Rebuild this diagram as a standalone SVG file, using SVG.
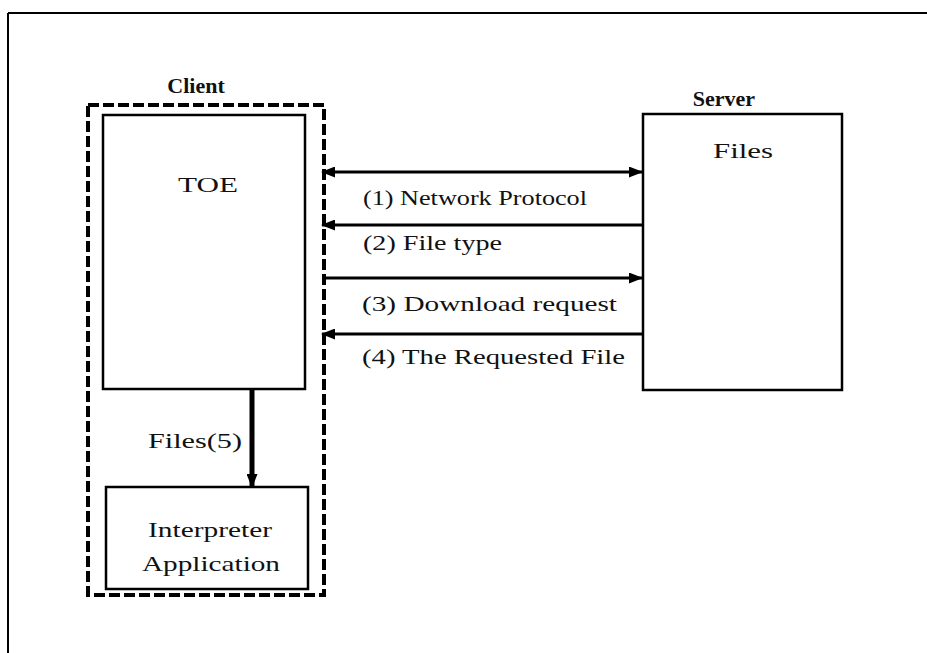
<svg xmlns="http://www.w3.org/2000/svg" width="927" height="653" viewBox="0 0 927 653">
<style>
.lbl{font-family:"Liberation Serif","Times New Roman",serif;font-size:21px;fill:#111}
.ttl{font-family:"Liberation Serif","Times New Roman",serif;font-size:22px;font-weight:bold;fill:#111}
.box{fill:#fff;stroke:#000;stroke-width:2.5}
.dash{fill:none;stroke:#000;stroke-width:4;stroke-dasharray:11 4}
.ln{stroke:#000;stroke-width:3;fill:none}
</style>
<defs>
<marker id="ah" markerWidth="14" markerHeight="11" refX="13" refY="5.5" orient="auto" markerUnits="userSpaceOnUse">
<path d="M0,0 L14,5.5 L0,11 Z" fill="#000"/>
</marker>
<marker id="ahs" markerWidth="14" markerHeight="11" refX="1" refY="5.5" orient="auto" markerUnits="userSpaceOnUse">
<path d="M14,0 L0,5.5 L14,11 Z" fill="#000"/>
</marker>
</defs>
<rect width="927" height="653" fill="#fff"/>
<g id="frame">
<line x1="8" y1="13" x2="927" y2="13" stroke="#000" stroke-width="2"/>
<line x1="8" y1="13" x2="8" y2="653" stroke="#000" stroke-width="2"/>
</g>
<g id="client">
<text class="ttl" x="196" y="93" text-anchor="middle">Client</text>
<rect class="dash" x="88" y="105" width="236" height="490"/>
</g>
<g id="toe">
<rect class="box" x="103" y="115" width="202" height="274"/>
<text class="lbl" x="208" y="192" text-anchor="middle" textLength="60" lengthAdjust="spacingAndGlyphs">TOE</text>
</g>
<g id="interpreter">
<rect class="box" x="106" y="487" width="202" height="102"/>
<text class="lbl" x="210" y="537" text-anchor="middle" textLength="124" lengthAdjust="spacingAndGlyphs">Interpreter</text>
<text class="lbl" x="211" y="571" text-anchor="middle" textLength="138" lengthAdjust="spacingAndGlyphs">Application</text>
</g>
<g id="server">
<text class="ttl" x="724" y="106" text-anchor="middle">Server</text>
<rect class="box" x="643" y="114" width="199" height="276"/>
<text class="lbl" x="743" y="158" text-anchor="middle" textLength="60" lengthAdjust="spacingAndGlyphs">Files</text>
</g>
<g id="connectors">
<line class="ln" x1="322" y1="172" x2="642" y2="172" marker-start="url(#ahs)" marker-end="url(#ah)"/>
<line class="ln" x1="643" y1="225" x2="322" y2="225" marker-end="url(#ah)"/>
<line class="ln" x1="322" y1="278" x2="642" y2="278" marker-end="url(#ah)"/>
<line class="ln" x1="643" y1="334" x2="322" y2="334" marker-end="url(#ah)"/>
<line x1="252" y1="389" x2="252" y2="487" stroke="#000" stroke-width="5" marker-end="url(#ah)"/>
</g>
<g id="labels">
<text class="lbl" x="363" y="205" textLength="224" lengthAdjust="spacingAndGlyphs">(1) Network Protocol</text>
<text class="lbl" x="363" y="250" textLength="139" lengthAdjust="spacingAndGlyphs">(2) File type</text>
<text class="lbl" x="362" y="311" textLength="255" lengthAdjust="spacingAndGlyphs">(3) Download request</text>
<text class="lbl" x="362" y="364" textLength="263" lengthAdjust="spacingAndGlyphs">(4) The Requested File</text>
<text class="lbl" x="148" y="448" textLength="94" lengthAdjust="spacingAndGlyphs">Files(5)</text>
</g>
</svg>
